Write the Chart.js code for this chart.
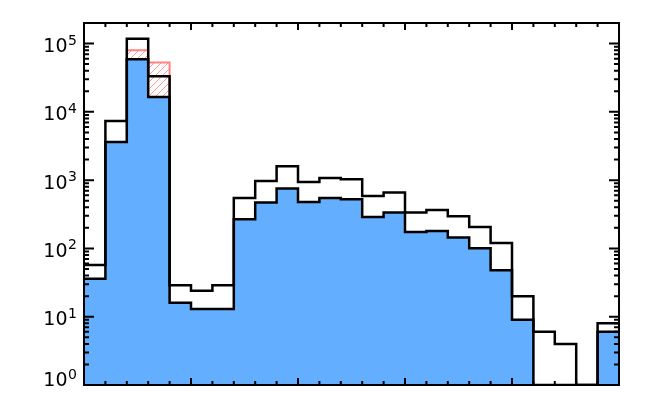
<!DOCTYPE html>
<html>
<head>
<meta charset="utf-8">
<script src="https://cdn.jsdelivr.net/npm/chart.js@4.4.1/dist/chart.umd.min.js"></script>
<style>
  html, body { margin: 0; padding: 0; background: #ffffff; }
  canvas { display: block; }
</style>
</head>
<body>
<canvas id="c" width="668" height="393"></canvas>
<script>
// ---- data ----
const binStarts   = [0, 1, 2, 3, 4, 5, 6, 7, 8, 9, 10, 11, 12, 13, 14, 15, 16, 17, 18, 19, 20, 21, 22, 23, 24];
const totalCounts = [57, 7360, 118000, 33200, 29, 24, 29, 549, 973, 1598, 941, 1077, 1031, 587, 658, 335, 366, 296, 206, 120, 20, 6, 4, 0, 8];
const blueCounts  = [36, 3620, 58900, 16500, 16, 13, 13, 268, 470, 753, 480, 549, 525, 289, 335, 174, 180, 144, 101, 48, 9, 0, 0, 0, 6];
const redCounts   = [0, 0, 79800, 52700, 0, 0, 0, 0, 0, 0, 0, 0, 0, 0, 0, 0, 0, 0, 0, 0, 0, 0, 0, 0, 0];
const yDecadeExponents = [0, 1, 2, 3, 4, 5];
const xMajorEvery = 5;

const Y_MIN = 1, Y_MAX = 2e5;
const X_MIN = 0, X_MAX = binStarts.length;

// histogram steps: one point per bin start plus the closing edge; zero counts sit on the floor of the log axis
function steps(vals) {
  const pts = vals.map((v, i) => ({ x: binStarts[i], y: Math.max(v, Y_MIN) }));
  const n = vals.length;
  pts.push({ x: binStarts[n - 1] + 1, y: Math.max(vals[n - 1], Y_MIN) });
  return pts;
}

function hatchPattern() {
  const s = 7;
  const c = document.createElement('canvas');
  c.width = s; c.height = s;
  const g = c.getContext('2d');
  g.strokeStyle = 'rgba(255,120,120,0.75)';
  g.lineWidth = 1;
  g.beginPath();
  g.moveTo(0, s); g.lineTo(s, 0);
  g.moveTo(-1, 1); g.lineTo(1, -1);
  g.moveTo(s - 1, s + 1); g.lineTo(s + 1, s - 1);
  g.stroke();
  return g.createPattern(c, 'repeat');
}

const frame = {
  id: 'frame',
  afterDraw(chart) {
    const { ctx, chartArea: a, scales: { x, y } } = chart;
    ctx.save();
    ctx.strokeStyle = '#000';
    ctx.lineWidth = 2;
    ctx.lineCap = 'butt';
    ctx.strokeRect(a.left, a.top, a.right - a.left, a.bottom - a.top);
    ctx.beginPath();
    for (let i = X_MIN; i <= X_MAX; i++) {
      const px = x.getPixelForValue(i);
      const len = i % xMajorEvery === 0 ? 7 : 4;
      ctx.moveTo(px, a.bottom); ctx.lineTo(px, a.bottom - len);
      ctx.moveTo(px, a.top); ctx.lineTo(px, a.top + len);
    }
    yDecadeExponents.forEach(e => {
      for (let m = 1; m <= 9; m++) {
        const v = m * Math.pow(10, e);
        if (v > Y_MAX) break;
        const py = y.getPixelForValue(v);
        const len = m === 1 ? 10 : 5;
        ctx.moveTo(a.left, py); ctx.lineTo(a.left + len, py);
        ctx.moveTo(a.right, py); ctx.lineTo(a.right - len, py);
      }
    });
    ctx.stroke();
    ctx.fillStyle = '#000';
    ctx.textBaseline = 'alphabetic';
    yDecadeExponents.forEach(e => {
      const py = y.getPixelForValue(Math.pow(10, e));
      const base = Math.min(py + 8.5, a.bottom + 1);
      ctx.font = '19px "DejaVu Sans"';
      ctx.textAlign = 'right';
      ctx.fillText('10', a.left - 16.5, base);
      ctx.font = '14px "DejaVu Sans"';
      ctx.textAlign = 'left';
      ctx.fillText(String(e), a.left - 16, base - 7.5);
    });
    ctx.restore();
  }
};

const lineCommon = {
  stepped: 'before',
  pointRadius: 0,
  pointHoverRadius: 0,
  borderJoinStyle: 'miter',
  borderCapStyle: 'butt',
  tension: 0
};

new Chart(document.getElementById('c'), {
  type: 'line',
  data: {
    datasets: [
      Object.assign({ label: 'total', data: steps(totalCounts), borderColor: '#000000', borderWidth: 2.5, fill: false }, lineCommon),
      Object.assign({ label: 'blue', data: steps(blueCounts), borderColor: '#000000', borderWidth: 2.5, backgroundColor: '#63aefe', fill: 'start' }, lineCommon),
      Object.assign({ label: 'red', data: steps(redCounts), borderColor: 'rgba(255,110,110,0.85)', borderWidth: 2, backgroundColor: hatchPattern(), fill: 'start' }, lineCommon)
    ]
  },
  options: {
    responsive: false,
    animation: false,
    devicePixelRatio: 1,
    layout: { padding: { left: 84, right: 49, top: 23, bottom: 8 } },
    plugins: { legend: { display: false }, tooltip: { enabled: false }, title: { display: false } },
    events: [],
    scales: {
      x: { type: 'linear', min: X_MIN, max: X_MAX, display: false },
      y: { type: 'logarithmic', min: Y_MIN, max: Y_MAX, display: false }
    }
  },
  plugins: [frame]
});
</script>
</body>
</html>
